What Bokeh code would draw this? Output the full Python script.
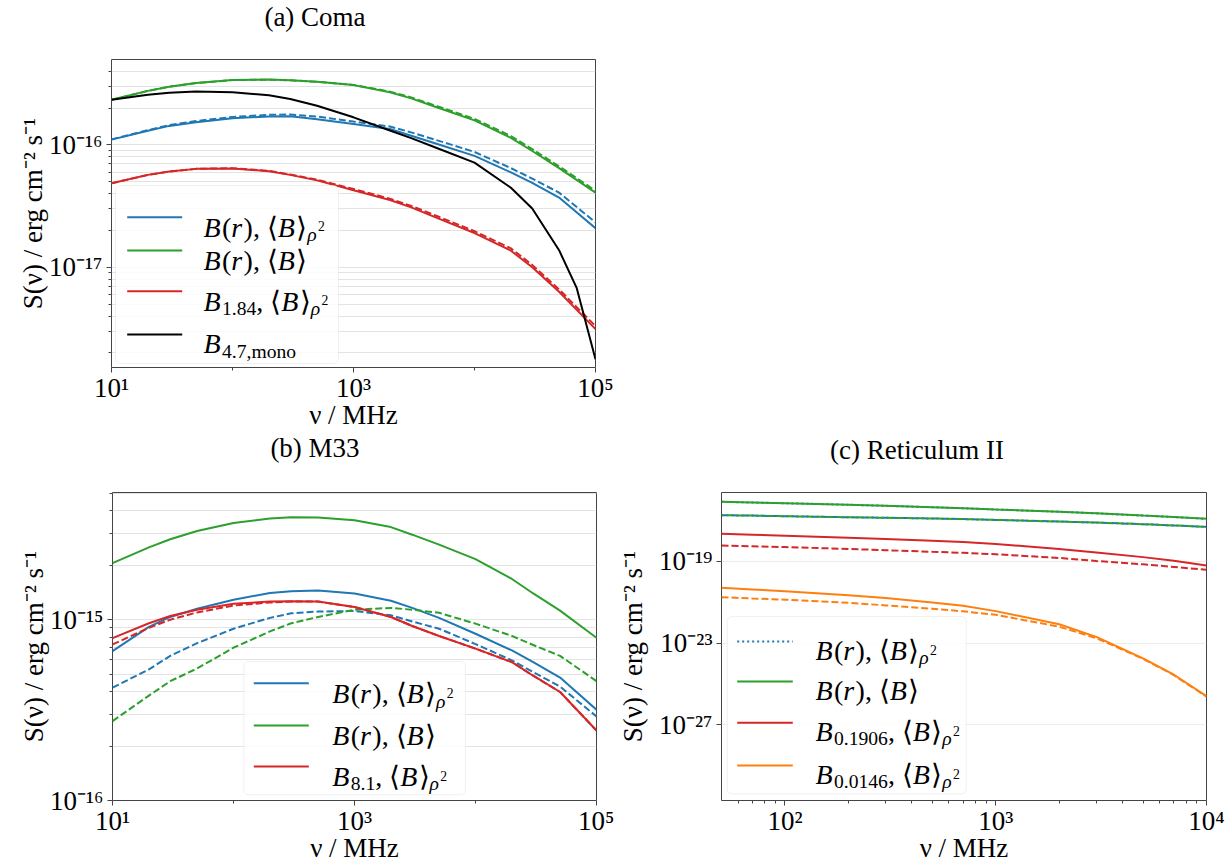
import math
from bokeh.plotting import figure
from bokeh.models import FixedTicker, CustomJSTickFormatter, Label, BoxAnnotation, Arrow, Range1d, Div
from bokeh.layouts import column, row
from bokeh.embed import file_html
from bokeh.resources import INLINE

# ----------------------------------------------------------------- data
# frequencies (MHz)
nu_coma = [10, 20, 30, 50, 100, 200, 300, 500, 1e3, 2e3, 3e3, 5e3, 1e4, 2e4, 3e4, 5e4, 1e5]
nu_coma_mono = [10, 20, 30, 50, 100, 200, 300, 500, 1e3, 2e3, 3e3, 5e3, 1e4, 2e4, 3e4, 5e4, 7e4, 1e5]
nu_m33 = [10, 20, 30, 50, 100, 200, 300, 500, 1e3, 2e3, 3e3, 5e3, 1e4, 2e4, 3e4, 5e4, 1e5]
nu_ret = [50, 70, 100, 200, 300, 500, 700, 1e3, 2e3, 3e3, 5e3, 7e3, 1e4]

# log10 S(nu) [erg cm^-2 s^-1]
coma_blue = [-15.957, -15.884, -15.845, -15.815, -15.783, -15.768, -15.767, -15.79, -15.83, -15.87, -15.925, -15.995, -16.09, -16.225, -16.31, -16.43, -16.68]
coma_blue_d = [-15.955, -15.88, -15.838, -15.805, -15.772, -15.755, -15.752, -15.768, -15.81, -15.85, -15.898, -15.965, -16.058, -16.19, -16.275, -16.39, -16.633]
coma_green = [-15.632, -15.559, -15.525, -15.495, -15.471, -15.467, -15.473, -15.485, -15.512, -15.57, -15.62, -15.697, -15.80, -15.943, -16.05, -16.19, -16.39]
coma_green_d = [-15.632, -15.559, -15.525, -15.495, -15.471, -15.467, -15.473, -15.485, -15.51, -15.565, -15.612, -15.687, -15.788, -15.928, -16.035, -16.175, -16.375]
coma_red = [-16.314, -16.245, -16.218, -16.196, -16.192, -16.215, -16.245, -16.29, -16.37, -16.45, -16.51, -16.6, -16.72, -16.864, -17.0, -17.2, -17.505]
coma_red_d = [-16.314, -16.245, -16.218, -16.196, -16.19, -16.212, -16.242, -16.285, -16.36, -16.44, -16.498, -16.585, -16.705, -16.845, -16.98, -17.18, -17.48]
coma_black = [-15.632, -15.59, -15.575, -15.565, -15.57, -15.595, -15.625, -15.68, -15.775, -15.883, -15.945, -16.03, -16.145, -16.35, -16.52, -16.86, -17.17, -17.75]

m33_blue = [-15.174, -15.04, -14.985, -14.94, -14.89, -14.852, -14.843, -14.838, -14.855, -14.895, -14.935, -14.99, -15.078, -15.17, -15.235, -15.32, -15.498]
m33_blue_d = [-15.376, -15.275, -15.2, -15.13, -15.05, -14.99, -14.965, -14.955, -14.952, -14.976, -15.01, -15.05, -15.135, -15.225, -15.29, -15.37, -15.535]
m33_green = [-14.687, -14.60, -14.555, -14.51, -14.465, -14.44, -14.433, -14.435, -14.45, -14.488, -14.53, -14.585, -14.665, -14.775, -14.855, -14.95, -15.1]
m33_green_d = [-15.561, -15.42, -15.34, -15.27, -15.155, -15.065, -15.02, -14.985, -14.945, -14.935, -14.945, -14.962, -15.022, -15.09, -15.14, -15.2, -15.34]
m33_red = [-15.102, -15.02, -14.98, -14.945, -14.912, -14.9, -14.898, -14.9, -14.93, -14.985, -15.035, -15.09, -15.16, -15.235, -15.31, -15.4, -15.613]
m33_red_d = [-15.137, -15.045, -15.0, -14.96, -14.922, -14.905, -14.9, -14.9, -14.93, -14.985, -15.035, -15.09, -15.16, -15.235, -15.31, -15.4, -15.613]

ret_blue = [-16.095, -16.13, -16.164, -16.24, -16.29, -16.36, -16.41, -16.47, -16.58, -16.66, -16.77, -16.84, -16.927]
ret_blue_d = [-16.75, -16.77, -16.8, -16.85, -16.875, -16.91, -16.94, -16.98, -17.06, -17.11, -17.19, -17.25, -17.32]
ret_green = [-16.095, -16.13, -16.164, -16.24, -16.29, -16.36, -16.41, -16.47, -16.58, -16.66, -16.77, -16.84, -16.927]
ret_green_d = [-16.75, -16.77, -16.8, -16.85, -16.875, -16.91, -16.94, -16.98, -17.06, -17.11, -17.19, -17.25, -17.32]
ret_red = [-17.66, -17.7, -17.75, -17.85, -17.91, -18.0, -18.06, -18.16, -18.40, -18.57, -18.80, -18.98, -19.21]
ret_red_d = [-18.23, -18.27, -18.31, -18.4, -18.46, -18.54, -18.59, -18.66, -18.84, -18.99, -19.15, -19.28, -19.42]
ret_orange = [-20.30, -20.38, -20.47, -20.66, -20.8, -21.02, -21.18, -21.44, -22.08, -22.7, -23.75, -24.55, -25.6]
ret_orange_d = [-20.76, -20.82, -20.88, -21.03, -21.16, -21.32, -21.45, -21.62, -22.2, -22.76, -23.77, -24.57, -25.62]

titles = ["(a) Coma", "(b) M33", "(c) Reticulum II"]
x_label = "\u03bd / MHz"
y_label = "S(\u03bd) / erg cm\u207b\u00b2 s\u207b\u00b9"

# ----------------------------------------------------------------- style
BLUE, ORANGE, GREEN, RED, BLACK = "#1f77b4", "#ff7f0e", "#2ca02c", "#d62728", "#000000"
FONT = "Liberation Serif"
FS = 27
FSL = 28
FRAME = "#444444"
GRID = "#e3e3e3"
DASH = "7 3"
DOT = "2 3"

RM = {" ": 0.25, "(": 0.333, ")": 0.333, ",": 0.25, ".": 0.25, "/": 0.278, "\u27e8": 0.39,
      "\u27e9": 0.39, "\u2212": 0.564, "a": 0.444, "c": 0.444, "e": 0.444, "g": 0.5, "m": 0.778,
      "n": 0.5, "o": 0.5, "r": 0.333, "s": 0.389, "z": 0.444, "M": 0.889, "H": 0.722}
IT = {"B": 0.611, "r": 0.389, "S": 0.5, "\u03bd": 0.45, "\u03c1": 0.5}
SIZE = {"n": 1.0, "sub": 0.7, "sup": 0.7, "subsup": 0.49}
SHIFT = {"n": 0.0, "sub": -0.26, "sup": 0.36, "subsup": 0.03}


def run_width(text, italic, size):
    table = IT if italic else RM
    return sum(table.get(c, 0.5) for c in text) * size + (0.05 * size if italic else 0.0)


def place_runs(p, x, y, runs, fs=FSL):
    for text, it, lvl in runs:
        size = fs * SIZE[lvl]
        p.add_layout(Label(x=x, y=y + fs * SHIFT[lvl], x_units="screen", y_units="screen",
                           text=text, text_font=FONT, text_font_size=f"{size:.1f}px",
                           text_font_style="italic" if it else "normal",
                           text_color="black", text_align="left", text_baseline="alphabetic"))
        x += run_width(text, it, size)


JS = """
const e = Math.round(Math.log10(tick));
const m = {"-": "\u207b", "0": "\u2070", "1": "\u00b9", "2": "\u00b2", "3": "\u00b3", "4": "\u2074",
           "5": "\u2075", "6": "\u2076", "7": "\u2077", "8": "\u2078", "9": "\u2079"};
return "10" + String(e).split("").map(function(c){ return m[c]; }).join("");
"""


def subs(decades, ks, lo, hi):
    out = []
    for e in decades:
        for k in ks:
            v = k * 10.0 ** e
            if lo < v < hi:
                out.append(v)
    return out


def make_fig(xr, yr, xt, xm, yt, ym, left, right, top, bottom, fw, fh, ylab_standoff,
             minor_grid=True, grid=GRID):
    p = figure(x_axis_type="log", y_axis_type="log", x_range=Range1d(*xr), y_range=Range1d(*yr),
               frame_width=fw, frame_height=fh, min_border_left=left, min_border_right=right,
               min_border_top=top, min_border_bottom=bottom, toolbar_location=None,
               output_backend="svg", background_fill_color="white", border_fill_color="white")
    p.xaxis.ticker = FixedTicker(ticks=xt, minor_ticks=xm)
    p.yaxis.ticker = FixedTicker(ticks=yt, minor_ticks=ym)
    for ax in (p.xaxis[0], p.yaxis[0]):
        ax.formatter = CustomJSTickFormatter(code=JS)
        ax.axis_line_color = None
        ax.major_tick_line_color = FRAME
        ax.minor_tick_line_color = FRAME
        ax.major_tick_out = 5
        ax.major_tick_in = 0
        ax.minor_tick_out = 3
        ax.minor_tick_in = 0
        ax.major_label_text_font = FONT
        ax.major_label_text_font_size = f"{FS}px"
        ax.major_label_text_color = "black"
        ax.axis_label_text_font = FONT
        ax.axis_label_text_font_size = f"{FS}px"
        ax.axis_label_text_font_style = "normal"
        ax.axis_label_text_color = "black"
    p.xaxis.major_label_standoff = 0
    p.xaxis.axis_label_standoff = -6
    p.yaxis.major_label_standoff = 4
    p.yaxis.axis_label_standoff = ylab_standoff
    p.xaxis.axis_label = x_label
    p.yaxis.axis_label = y_label
    p.outline_line_color = FRAME
    p.outline_line_width = 1
    p.xgrid.grid_line_color = None
    p.ygrid.grid_line_color = grid
    p.ygrid.grid_line_width = 1
    p.ygrid.minor_grid_line_color = grid if minor_grid else None
    p.ygrid.minor_grid_line_width = 1
    return p


def title_div(text, width, height, dx, dy):
    html = (f'<div style="position:relative; left:{dx}px; top:{dy}px; width:{width}px; '
            f"text-align:center; font-family:'{FONT}'; font-size:{FS}px; line-height:{FS}px; "
            f'white-space:nowrap; color:black;">{text}</div>')
    return Div(text=html, width=width, height=height, margin=0)


def draw(p, nu, logs, color, dash="solid", offset=0):
    p.line(nu, [10.0 ** v for v in logs], line_color=color, line_width=2, line_dash=dash,
           line_dash_offset=offset)


def legend(p, box, x0, x1, xt, entries):
    l, r, t, b = box
    p.add_layout(BoxAnnotation(left=l, right=r, top=t, bottom=b, left_units="screen",
                               right_units="screen", top_units="screen", bottom_units="screen",
                               fill_color="white", fill_alpha=0.85, line_color="#cccccc",
                               line_width=1, border_radius=5))
    for color, dash, ly, base, runs in entries:
        p.add_layout(Arrow(end=None, x_start=x0, y_start=ly, x_end=x1, y_end=ly,
                           start_units="screen", end_units="screen", line_color=color,
                           line_width=2, line_dash=dash))
        place_runs(p, xt, base, runs)


T, F = True, False
BR = [("B", T, "n"), ("(", F, "n"), ("r", T, "n"), ("), ", F, "n")]
AVG = [("\u27e8", F, "n"), ("B", T, "n"), ("\u27e9", F, "n")]
RHO2 = AVG + [("\u03c1", T, "sub"), ("2", F, "subsup")]


def bsub(s):
    return [("B", T, "n"), (s, F, "sub"), (", ", F, "n")]


# ----------------------------------------------------------------- (a) Coma
FWa, FHa = 484, 308
pa = make_fig((10, 1e5), (1.52e-18, 4.98e-16), [10, 1e3, 1e5], [100, 1e4],
              [1e-17, 1e-16], subs([-18, -17, -16], range(2, 10), 1.52e-18, 4.98e-16),
              111, 20, 14, 70, FWa, FHa, -2)
draw(pa, nu_coma, coma_blue, BLUE)
draw(pa, nu_coma, coma_blue_d, BLUE, DASH)
draw(pa, nu_coma, coma_green, GREEN)
draw(pa, nu_coma, coma_green_d, GREEN, DASH)
draw(pa, nu_coma, coma_red, RED)
draw(pa, nu_coma, coma_red_d, RED, DASH)
draw(pa, nu_coma_mono, coma_black, BLACK)
legend(pa, (4, 227, 182, 4), 15.7, 70.7, 92, [
    (BLUE, "solid", 150.3, 140.3, BR + RHO2),
    (GREEN, "solid", 117, 107, BR + AVG),
    (RED, "solid", 76.3, 66.3, bsub("1.84") + RHO2),
    (BLACK, "solid", 33, 23.7, [("B", T, "n"), ("4.7,mono", F, "sub")]),
])
da = title_div(titles[0], 615, 45, 7.5, 4.4)

# ----------------------------------------------------------------- (b) M33
FWb, FHb = 484, 308
pb = make_fig((10, 1e5), (1e-16, 5.05e-15), [10, 1e3, 1e5], [100, 1e4],
              [1e-16, 1e-15], subs([-16, -15], range(2, 10), 1e-16, 5.05e-15),
              112, 18, 15, 5, FWb, FHb, -2)
draw(pb, nu_m33, m33_blue, BLUE)
draw(pb, nu_m33, m33_blue_d, BLUE, DASH)
draw(pb, nu_m33, m33_green, GREEN)
draw(pb, nu_m33, m33_green_d, GREEN, DASH)
draw(pb, nu_m33, m33_red, RED)
draw(pb, nu_m33, m33_red_d, RED, DASH)
legend(pb, (131.3, 353, 139, 5.7), 141.3, 196.3, 219.7, [
    (BLUE, "solid", 117.3, 106.7, BR + RHO2),
    (GREEN, "solid", 75, 65, BR + AVG),
    (RED, "solid", 34, 24, bsub("8.1") + RHO2),
])
db = title_div(titles[1], 614, 40, 8, -1.6)

# ----------------------------------------------------------------- (c) Reticulum II
FWc, FHc = 485, 308
pc = make_fig((50, 1e4), (10 ** -30.7, 10 ** -15.64), [100, 1e3, 1e4],
              subs([1, 2, 3], range(2, 10), 50, 1e4),
              [1e-19, 1e-23, 1e-27], [], 102, 24, 15, 5, FWc, FHc, 8,
              minor_grid=False, grid="#ececec")
draw(pc, nu_ret, ret_blue, BLUE, DOT)
draw(pc, nu_ret, ret_green, GREEN)
draw(pc, nu_ret, ret_red, RED)
draw(pc, nu_ret, ret_orange, ORANGE)
draw(pc, nu_ret, ret_blue_d, BLUE, DASH)
draw(pc, nu_ret, ret_green_d, GREEN, DASH, 5)
draw(pc, nu_ret, ret_red_d, RED, DASH)
draw(pc, nu_ret, ret_orange_d, ORANGE, DASH)
legend(pc, (5.7, 244.7, 184, 6.7), 15.7, 71.3, 94, [
    (BLUE, DOT, 159, 150, BR + RHO2),
    (GREEN, "solid", 119, 110, BR + AVG),
    (RED, "solid", 77.7, 69, bsub("0.1906") + RHO2),
    (ORANGE, "solid", 35, 26, bsub("0.0146") + RHO2),
])
dc = title_div(titles[2], 611, 40, -2.5, 0.4)

layout = column(column(da, pa), row(column(db, pb), column(dc, pc)))
open("out.html", "w").write(file_html(layout, INLINE))
